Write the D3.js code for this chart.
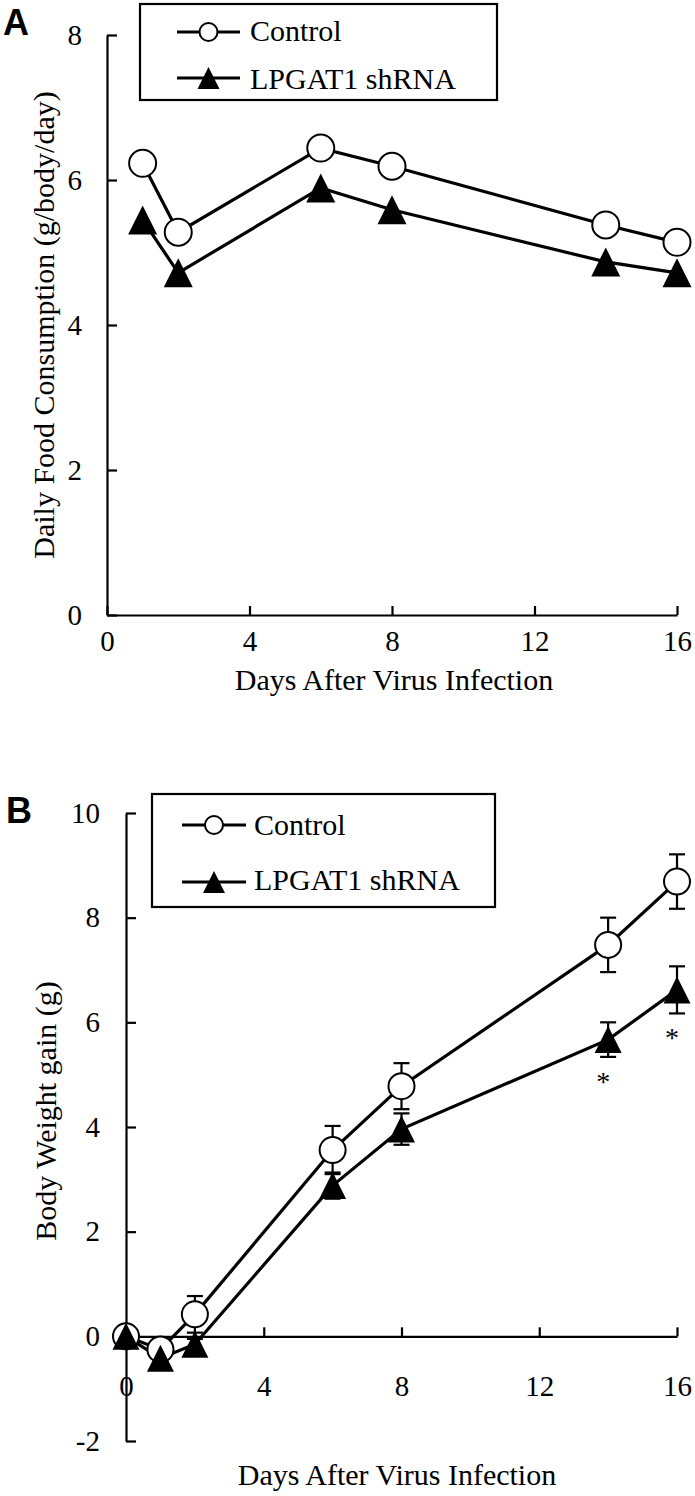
<!DOCTYPE html>
<html>
<head>
<meta charset="utf-8">
<script src="https://cdn.jsdelivr.net/npm/d3@7"></script>
<style>
  html, body { margin: 0; padding: 0; background: #fff; }
  svg { display: block; }
  text { font-family: "Liberation Serif", "Times New Roman", serif; }
  text.letter { font-family: "Liberation Sans", Arial, sans-serif; font-weight: bold; }
</style>
</head>
<body>
<svg id="chart" width="695" height="1496"></svg>
<script>
// ---------- DATA ----------
const seriesNames = ["Control", "LPGAT1 shRNA"];
const xTicks = [0, 4, 8, 12, 16];

// Panel A: daily food consumption (g/body/day)
const daysA = [1, 2, 6, 8, 14, 16];
const controlA = [6.23, 5.28, 6.44, 6.19, 5.38, 5.14];
const shrnaA = [5.45, 4.72, 5.89, 5.59, 4.87, 4.72];
const yTicksA = [0, 2, 4, 6, 8];

// Panel B: body weight gain (g)
const daysB = [0, 1, 2, 6, 8, 14, 16];
const controlB = [0, -0.25, 0.42, 3.56, 4.78, 7.48, 8.69];
const controlErrB = [0.08, 0.1, 0.35, 0.46, 0.44, 0.52, 0.52];
const shrnaB = [0, -0.42, -0.15, 2.88, 3.96, 5.67, 6.62];
const shrnaErrB = [0.08, 0.1, 0.1, 0.25, 0.3, 0.33, 0.45];
const sigDaysB = [14, 16];
const yTicksB = [-2, 0, 2, 4, 6, 8, 10];

// ---------- DRAW ----------
const svg = d3.select("#chart");
const SERIF = "Liberation Serif";

function triPath(w, h) {
  return `M0,${-h / 2}L${w / 2},${h / 2}L${-w / 2},${h / 2}Z`;
}

function panel(opts) {
  const g = svg.append("g");
  const x = d3.scaleLinear().domain([0, 16]).range(opts.xRange);
  const y = d3.scaleLinear().domain(opts.yDomain).range(opts.yRange);

  g.append("text").attr("class", "letter").attr("x", opts.letterPos[0]).attr("y", opts.letterPos[1])
    .attr("font-size", 36).text(opts.letter);

  const fmt = d => String(d);
  const ya = g.append("g").attr("transform", `translate(${x(0)},0)`)
    .call(d3.axisLeft(y).tickValues(opts.yTicks).tickSizeInner(-10).tickSizeOuter(0)
      .tickPadding(opts.yPad).tickFormat(fmt));
  const xa = g.append("g").attr("transform", `translate(0,${y(0)})`)
    .call(d3.axisBottom(x).tickValues(xTicks).tickSizeInner(-9).tickSizeOuter(0)
      .tickPadding(opts.xPad).tickFormat(fmt));
  [ya, xa].forEach(a => {
    a.attr("font-family", SERIF).attr("font-size", 29);
    a.select(".domain").attr("stroke", "#000").attr("stroke-width", 2.2);
    a.selectAll(".tick line").attr("stroke", "#000").attr("stroke-width", 2.2);
    a.selectAll(".tick text").attr("fill", "#000");
  });

  g.append("text").attr("x", opts.xTitlePos[0]).attr("y", opts.xTitlePos[1])
    .attr("text-anchor", "middle").attr("font-size", 30)
    .text("Days After Virus Infection");
  g.append("text")
    .attr("transform", `translate(${opts.yTitlePos[0]},${opts.yTitlePos[1]}) rotate(-90)`)
    .attr("text-anchor", "middle").attr("font-size", 30)
    .text(opts.yTitle);

  const line = d3.line().x(d => x(d[0])).y(d => y(d[1]));
  const ctrlPts = opts.days.map((d, i) => [d, opts.control[i]]);
  const shPts = opts.days.map((d, i) => [d, opts.shrna[i]]);

  g.append("path").datum(ctrlPts).attr("d", line)
    .attr("fill", "none").attr("stroke", "#000").attr("stroke-width", 3.2);
  g.append("path").datum(shPts).attr("d", line)
    .attr("fill", "none").attr("stroke", "#000").attr("stroke-width", 3.2);

  function errBars(pts, errs) {
    if (!errs) return;
    const eb = g.append("g").attr("stroke", "#000").attr("stroke-width", 2.2);
    pts.forEach((p, i) => {
      const cx = x(p[0]), lo = y(p[1] - errs[i]), hi = y(p[1] + errs[i]);
      eb.append("line").attr("x1", cx).attr("x2", cx).attr("y1", lo).attr("y2", hi);
      eb.append("line").attr("x1", cx - 8).attr("x2", cx + 8).attr("y1", lo).attr("y2", lo);
      eb.append("line").attr("x1", cx - 8).attr("x2", cx + 8).attr("y1", hi).attr("y2", hi);
    });
  }
  errBars(ctrlPts, opts.controlErr);
  errBars(shPts, opts.shrnaErr);

  g.append("g").selectAll("circle").data(ctrlPts).join("circle")
    .attr("cx", d => x(d[0])).attr("cy", d => y(d[1])).attr("r", opts.r)
    .attr("fill", "#fff").attr("stroke", "#000").attr("stroke-width", 2);
  g.append("g").selectAll("path").data(shPts).join("path")
    .attr("transform", d => `translate(${x(d[0])},${y(d[1])})`)
    .attr("d", triPath(opts.tri[0], opts.tri[1])).attr("fill", "#000");

  if (opts.sig) {
    opts.sig.forEach(day => {
      const i = opts.days.indexOf(day);
      g.append("text").attr("x", x(day) - 5)
        .attr("y", y(opts.shrna[i] - opts.shrnaErr[i]) + 34)
        .attr("text-anchor", "middle").attr("font-size", 28)
        .text("*");
    });
  }

  const L = opts.legend;
  g.append("rect").attr("x", L.box[0]).attr("y", L.box[1])
    .attr("width", L.box[2] - L.box[0]).attr("height", L.box[3] - L.box[1])
    .attr("fill", "#fff").attr("stroke", "#000").attr("stroke-width", 2.2);
  seriesNames.forEach((name, i) => {
    const ly = L.rows[i];
    g.append("line").attr("x1", L.lineX[0]).attr("x2", L.lineX[1]).attr("y1", ly).attr("y2", ly)
      .attr("stroke", "#000").attr("stroke-width", 3.2);
    const mx = (L.lineX[0] + L.lineX[1]) / 2;
    if (i === 0) {
      g.append("circle").attr("cx", mx).attr("cy", ly).attr("r", 9)
        .attr("fill", "#fff").attr("stroke", "#000").attr("stroke-width", 2);
    } else {
      g.append("path").attr("transform", `translate(${mx},${ly})`)
        .attr("d", triPath(22, 22)).attr("fill", "#000");
    }
    g.append("text").attr("x", L.textX).attr("y", L.baselines[i])
      .attr("font-size", 30).text(name);
  });
}

panel({
  letter: "A", letterPos: [3, 35],
  xRange: [107, 677], yDomain: [0, 8], yRange: [615, 35],
  yTicks: yTicksA, yPad: 25, xPad: 15,
  xTitlePos: [394, 690], yTitlePos: [54, 325],
  yTitle: "Daily Food Consumption (g/body/day)",
  days: daysA, control: controlA, shrna: shrnaA,
  r: 13.5, tri: [29, 29],
  legend: { box: [140, 4, 497, 100], rows: [32, 78], baselines: [41, 89],
            lineX: [177, 240], textX: 250 }
});

panel({
  letter: "B", letterPos: [6, 823],
  xRange: [126, 677], yDomain: [-2, 10], yRange: [1441, 813],
  yTicks: yTicksB, yPad: 26, xPad: 39,
  xTitlePos: [397, 1485], yTitlePos: [56, 1111],
  yTitle: "Body Weight gain (g)",
  days: daysB, control: controlB, shrna: shrnaB,
  controlErr: controlErrB, shrnaErr: shrnaErrB, sig: sigDaysB,
  r: 13, tri: [27, 27],
  legend: { box: [152, 794, 495, 907], rows: [825, 882], baselines: [835, 890],
            lineX: [182, 246], textX: 254 }
});
</script>
</body>
</html>
